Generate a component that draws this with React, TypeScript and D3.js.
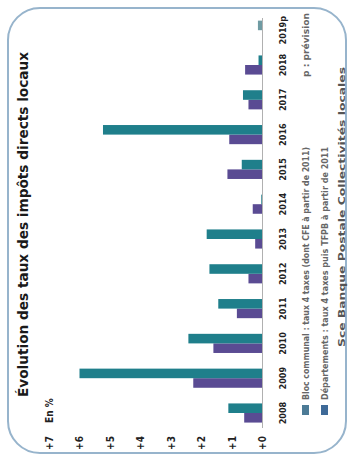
import * as d3 from 'd3'

// Chart drawn in landscape coordinates, then rotated -90° like the scan
const years = ['2008', '2009', '2010', '2011', '2012', '2013', '2014', '2015', '2016', '2017', '2018', '2019p']
const departements: (number | null)[] = [0.6, 2.27, 1.61, 0.84, 0.46, 0.24, 0.32, 1.15, 1.09, 0.46, 0.57, null]
const blocCommunal = [1.12, 6.0, 2.43, 1.45, 1.74, 1.83, 0.04, 0.68, 5.23, 0.64, 0.13, 0.15]
const ticks = [0, 1, 2, 3, 4, 5, 6, 7]
const legendLabels = [
  'Bloc communal : taux 4 taxes (dont CFE à partir de 2011)',
  'Départements : taux 4 taxes puis TFPB à partir de 2011',
]

const W = 463
const H = 348
const TEAL = '#1f7f8b'
const PURPLE = '#5a4b93'
const TEAL_P = '#6f9ba3'
const FONT = '"Liberation Sans Narrow", "DejaVu Sans Condensed", "Liberation Sans", sans-serif'

export default function App() {
  const x = d3.scaleBand<string>()
    .domain(years)
    .range([32.6, 450.2])
    .paddingInner(0.45)
    .paddingOuter(0.225)

  const sub = d3.scaleBand<string>()
    .domain(['dep', 'bloc'])
    .range([0, x.bandwidth()])

  const y = d3.scaleLinear().domain([0, 7]).range([262.5, 49])

  return (
    <svg
      width={348}
      height={463}
      style={{ position: 'absolute', left: 0, top: 0, background: '#fff' }}
    >
      <g transform={`translate(0,${463}) rotate(-90)`} fontFamily={FONT}>
        <rect x={0} y={0} width={W} height={H} fill="#fff" />
        <rect x={10} y={8} width={445} height={338} rx={32} fill="none" stroke="#97b4cc" strokeWidth={2} />

        <text x={66} y={28} fontSize={14} fontWeight="bold" fill="#1a1a1a"
          textLength={345} lengthAdjust="spacingAndGlyphs">
          Évolution des taux des impôts directs locaux
        </text>
        <text x={40} y={y(7) + 3.5} fontSize={10} fontWeight="bold" fill="#222">En %</text>

        {ticks.map(t => (
          <text key={t} x={20} y={y(t) + 3.5} fontSize={10} fontWeight="bold" fill="#222" textAnchor="middle">
            +{t}
          </text>
        ))}

        {years.map((yr, i) => {
          const d = departements[i]
          const b = blocCommunal[i]
          const x0 = x(yr)!
          return (
            <g key={yr}>
              {d != null && (
                <rect x={x0 + sub('dep')!} y={y(d)} width={sub.bandwidth()} height={y(0) - y(d)} fill={PURPLE} />
              )}
              <rect x={x0 + sub('bloc')!} y={y(b)} width={sub.bandwidth()} height={y(0) - y(b)}
                fill={yr.endsWith('p') ? TEAL_P : TEAL} />
              <text x={x0 + x.bandwidth() / 2} y={286} fontSize={9} fontWeight="bold" fill="#222" textAnchor="middle">
                {yr}
              </text>
            </g>
          )
        })}

        <line x1={35} x2={445} y1={y(0)} y2={y(0)} stroke="#b0b0b0" strokeWidth={1} />

        {legendLabels.map((l, i) => (
          <g key={l}>
            <rect x={48} y={302 + i * 19} width={10} height={7} fill={i === 0 ? '#4c7b96' : '#3e6a98'} />
            <text x={63} y={309 + i * 19} fontSize={8} fontWeight="bold" fill="#666"
              textLength={253} lengthAdjust="spacingAndGlyphs">
              {l}
            </text>
          </g>
        ))}
        <text x={386} y={309} fontSize={8} fontWeight="bold" fill="#666" textLength={64} lengthAdjust="spacingAndGlyphs">
          p : prévision
        </text>
        <text x={116} y={345} fontSize={8.5} fontWeight="bold" fill="#555" textLength={280} lengthAdjust="spacingAndGlyphs">
          Sce Banque Postale Collectivités locales
        </text>
      </g>
    </svg>
  )
}
